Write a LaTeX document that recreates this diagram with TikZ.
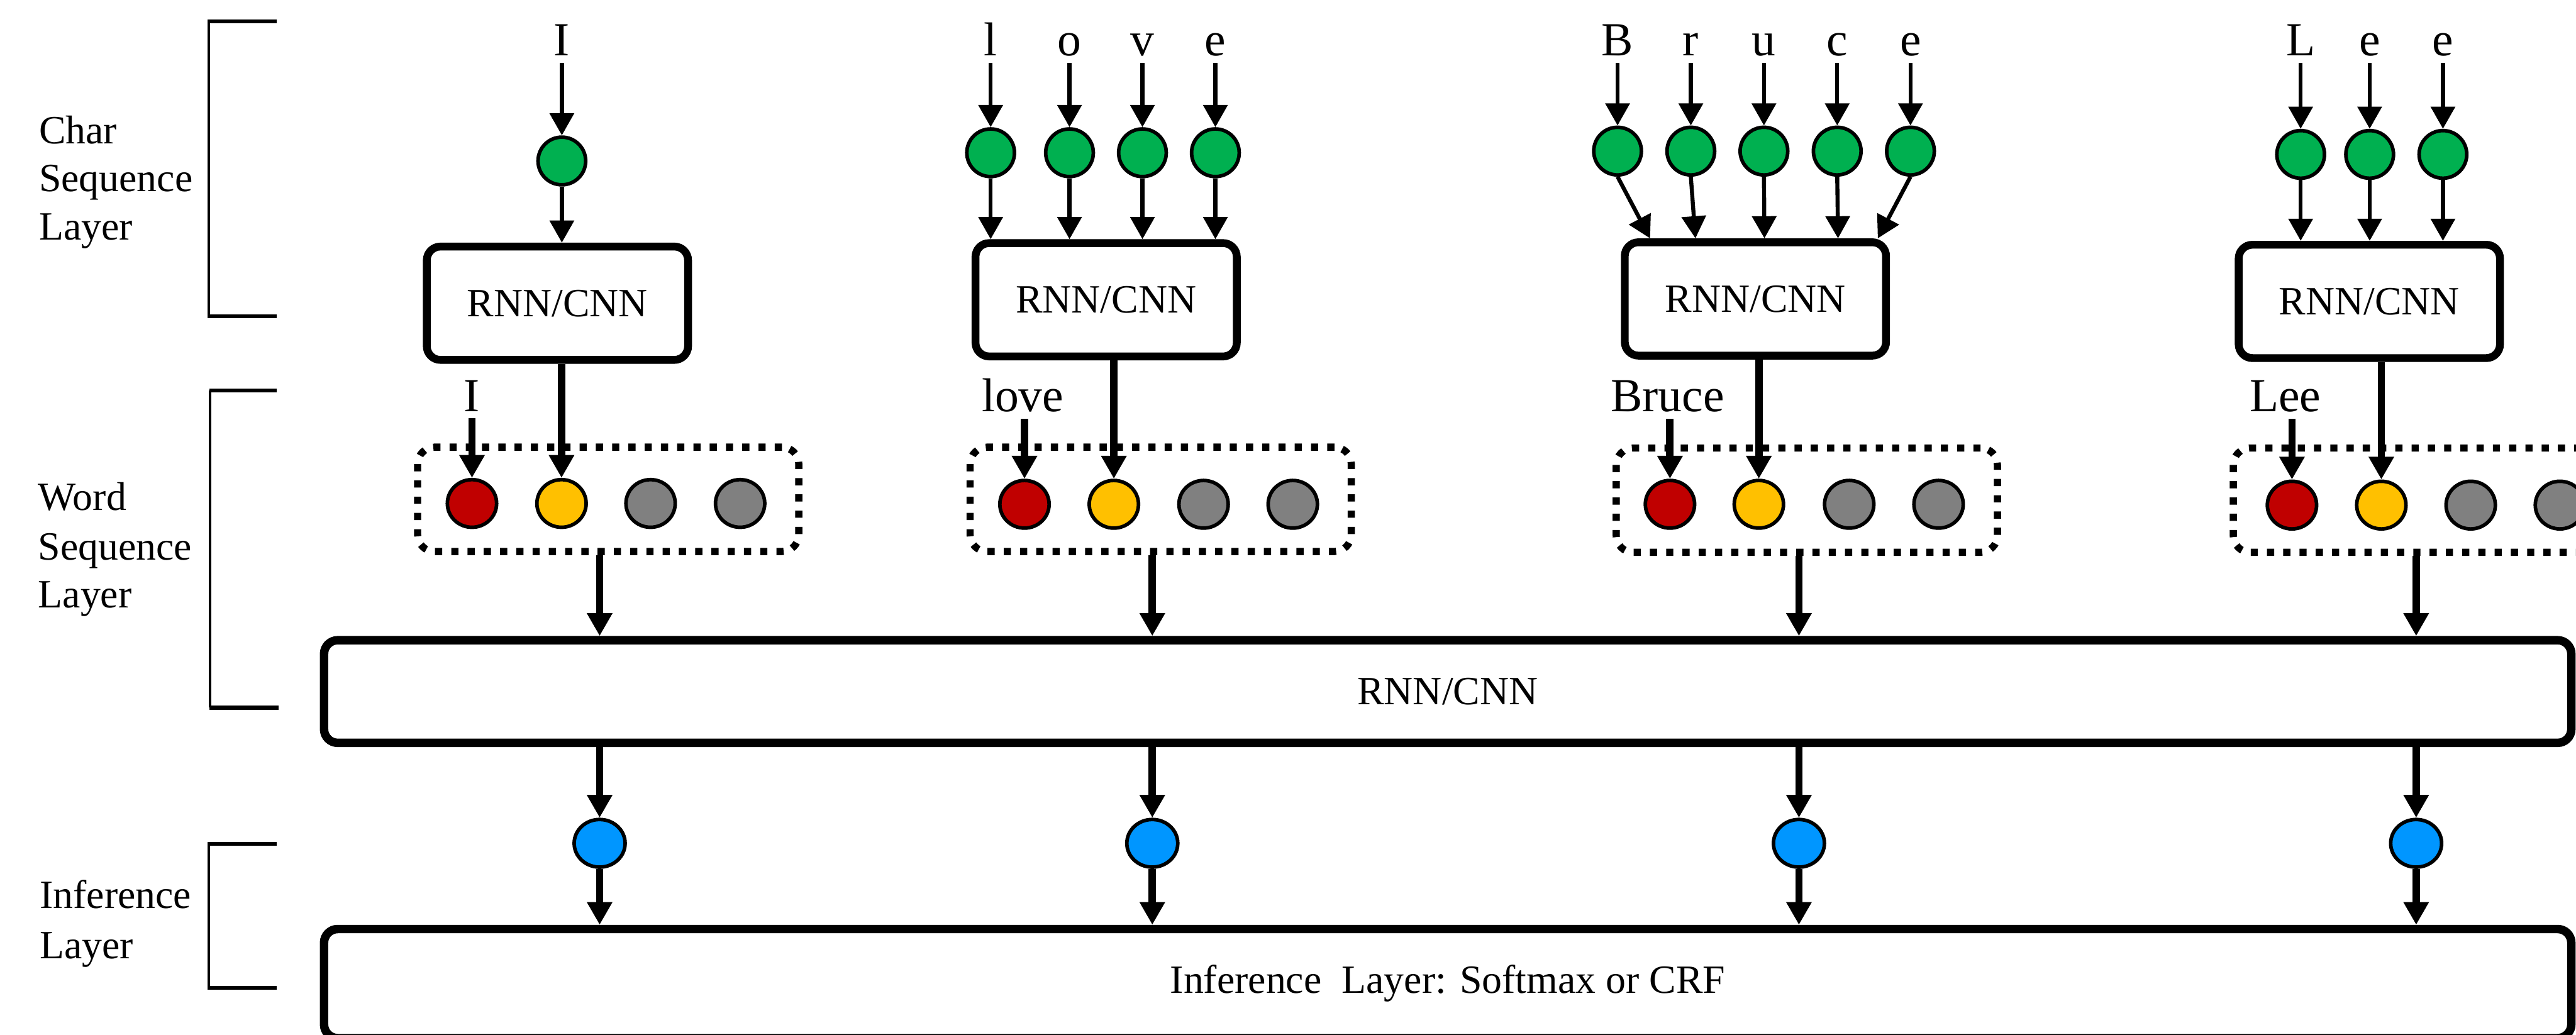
\documentclass[tikz,border=0pt]{standalone}
\usepackage{fontspec}
\setmainfont{Liberation Serif}
\usetikzlibrary{arrows.meta,shapes.geometric}
\definecolor{cgreen}{RGB}{0,176,80}
\definecolor{cred}{RGB}{192,0,0}
\definecolor{cyellow}{RGB}{255,192,0}
\definecolor{cgray}{RGB}{128,128,128}
\definecolor{cblue}{RGB}{0,150,255}
\begin{document}
\begin{tikzpicture}[x=0.02735cm,y=-0.02735cm,
  letter/.style={font=\fontsize{22.5}{27}\selectfont, inner sep=3pt, anchor=base},
  lbl/.style={font=\fontsize{19}{23}\selectfont, anchor=base west, inner sep=0pt},
  gnode/.style={ellipse, draw, line width=1.7pt, fill=cgreen, minimum width=0.793cm, minimum height=0.793cm, inner sep=0pt},
  wnode/.style={ellipse, draw, line width=1.7pt, minimum width=0.82cm, minimum height=0.793cm, inner sep=0pt},
  bnode/.style={ellipse, draw, line width=1.7pt, fill=cblue, minimum width=0.848cm, minimum height=0.793cm, inner sep=0pt},
  rbox/.style={draw, line width=3.7pt, rounded corners=6.5pt, minimum width=4.349cm, minimum height=1.887cm, font=\fontsize{19}{23}\selectfont},
  widebox/.style={draw, line width=4pt, rounded corners=6.5pt, minimum width=37.404cm, font=\fontsize{19}{23}\selectfont},
  dotbox/.style={draw, line width=3.4pt, dash pattern=on 3.4pt off 4.3pt, rounded corners=8pt, minimum width=6.345cm, minimum height=1.737cm},
  carr/.style={line width=1.9pt, -{Triangle[length=10.5pt,width=11.3pt]}},
  warr/.style={line width=3.5pt, -{Triangle[length=10.8pt,width=11.4pt]}},
  brk/.style={line width=1.2pt},
  tickline/.style={line width=1.9pt}
]
\useasboundingbox (0,0) rectangle (1568,630);

% ---------- left layer labels and brackets ----------
\node[lbl] (lc1) at (23.5,87.4) {Char};
\node[lbl] (lc2) at (23.5,116.7) {Sequence};
\node[lbl] (lc3) at (23.5,146) {Layer};
\node[lbl] (lw1) at (23,310.8) {Word};
\node[lbl] (lw2) at (23,341) {Sequence};
\node[lbl] (lw3) at (23,370) {Layer};
\node[lbl] (li1) at (24,553) {Inference};
\node[lbl] (li2) at (24,583.7) {Layer};

\draw[brk] (127,13) -- (127,192.5);
\draw[tickline] (126.4,13) -- (168.5,13);
\draw[tickline] (126.4,192.5) -- (168.5,192.5);
\draw[brk] (128,237.7) -- (128,430.8);
\draw[tickline] (127.4,237.7) -- (168.5,237.7);
\draw[tickline] (127.4,430.8) -- (169.5,430.8);
\draw[brk] (127,513.8) -- (127,601.5);
\draw[tickline] (126.4,513.8) -- (168.5,513.8);
\draw[tickline] (126.4,601.5) -- (168.5,601.5);

% ---------- char level ----------
% group 1
\node[letter] (c1a) at (342,34) {I};
\node[gnode] (g1a) at (342,98) {};
\node[rbox] (b1) at (339.3,184.6) {RNN/CNN};
% group 2
\node[letter] (c2a) at (603,34) {l};
\node[letter] (c2b) at (651,34) {o};
\node[letter] (c2c) at (695.4,34) {v};
\node[letter] (c2d) at (739.8,34) {e};
\node[gnode] (g2a) at (603,93) {};
\node[gnode] (g2b) at (651,93) {};
\node[gnode] (g2c) at (695.4,93) {};
\node[gnode] (g2d) at (739.8,93) {};
\node[rbox] (b2) at (673.3,182.5) {RNN/CNN};
% group 3
\node[letter] (c3a) at (984.6,34) {B};
\node[letter] (c3b) at (1029.2,34) {r};
\node[letter] (c3c) at (1073.7,34) {u};
\node[letter] (c3d) at (1118.3,34) {c};
\node[letter] (c3e) at (1162.9,34) {e};
\node[gnode] (g3a) at (984.6,92) {};
\node[gnode] (g3b) at (1029.2,92) {};
\node[gnode] (g3c) at (1073.7,92) {};
\node[gnode] (g3d) at (1118.3,92) {};
\node[gnode] (g3e) at (1162.9,92) {};
\node[rbox] (b3) at (1068.5,182) {RNN/CNN};
% group 4
\node[letter] (c4a) at (1400.4,34) {L};
\node[letter] (c4b) at (1442.4,34) {e};
\node[letter] (c4c) at (1487,34) {e};
\node[gnode] (g4a) at (1400.4,94) {};
\node[gnode] (g4b) at (1442.4,94) {};
\node[gnode] (g4c) at (1487,94) {};
\node[rbox] (b4) at (1442.2,183.5) {RNN/CNN};

\coordinate (t3a) at (1004.4,0);
\coordinate (t3b) at (1032,0);
\coordinate (t3c) at (1074,0);
\coordinate (t3d) at (1118.8,0);
\coordinate (t3e) at (1143,0);

\foreach \n in {1a,2a,2b,2c,2d,3a,3b,3c,3d,3e,4a,4b,4c}{
  \draw[carr] (c\n.south) -- (g\n.north);
}
\draw[carr] (g1a.south) -- (b1.north -| g1a);
\foreach \n in {a,b,c,d}{ \draw[carr] (g2\n.south) -- (b2.north -| g2\n); }
\foreach \n in {a,b,c,d,e}{ \draw[carr] (g3\n.south) -- (b3.north -| t3\n); }
\foreach \n in {a,b,c}{ \draw[carr] (g4\n.south) -- (b4.north -| g4\n); }

% ---------- word level ----------
\node[dotbox] (d1) at (370.2,304) {};
\node[dotbox] (d2) at (706.5,304) {};
\node[dotbox] (d3) at (1099.8,304.5) {};
\node[dotbox] (d4) at (1475.4,304.5) {};

\node[wnode, fill=cred] (r1) at (287.3,306.5) {};
\node[wnode, fill=cyellow] (y1) at (341.8,306.5) {};
\node[wnode, fill=cgray] (p1) at (396,306.5) {};
\node[wnode, fill=cgray] (q1) at (450.5,306.5) {};
\node[wnode, fill=cred] (r2) at (623.6,307) {};
\node[wnode, fill=cyellow] (y2) at (678,307) {};
\node[wnode, fill=cgray] (p2) at (732.6,307) {};
\node[wnode, fill=cgray] (q2) at (786.9,307) {};
\node[wnode, fill=cred] (r3) at (1016.5,307) {};
\node[wnode, fill=cyellow] (y3) at (1070.6,307) {};
\node[wnode, fill=cgray] (p3) at (1125.6,307) {};
\node[wnode, fill=cgray] (q3) at (1180,307) {};
\node[wnode, fill=cred] (r4) at (1395.1,307.5) {};
\node[wnode, fill=cyellow] (y4) at (1449.5,307.5) {};
\node[wnode, fill=cgray] (p4) at (1503.9,307.5) {};
\node[wnode, fill=cgray] (q4) at (1558.2,307.5) {};

\node[letter] (wl1) at (287.3,250.5) {I};
\node[letter] (wl2) at (622.5,250.5) {love};
\node[letter] (wl3) at (1015,250.5) {Bruce};
\node[letter] (wl4) at (1391,250.5) {Lee};

\foreach \i in {1,2,3,4}{
  \draw[warr] (wl\i.south -| r\i) -- (r\i.north);
  \draw[warr] (b\i.south -| y\i) -- (y\i.north);
}

% ---------- sentence level ----------
\node[widebox, minimum height=1.709cm] (big) at (881.2,421) {RNN/CNN};
\node[widebox, minimum height=1.816cm] (inf) at (881.2,598.8) {Inference\ \ Layer: Softmax or CRF};

\node[bnode] (bl1) at (365,513.4) {};
\node[bnode] (bl2) at (701.4,513.4) {};
\node[bnode] (bl3) at (1095,513.4) {};
\node[bnode] (bl4) at (1470.7,513.4) {};

\foreach \i in {1,2,3,4}{
  \draw[warr] (d\i.south -| bl\i) -- (big.north -| bl\i);
  \draw[warr] (big.south -| bl\i) -- (bl\i.north);
  \draw[warr] (bl\i.south) -- (inf.north -| bl\i);
}
\end{tikzpicture}
\end{document}
